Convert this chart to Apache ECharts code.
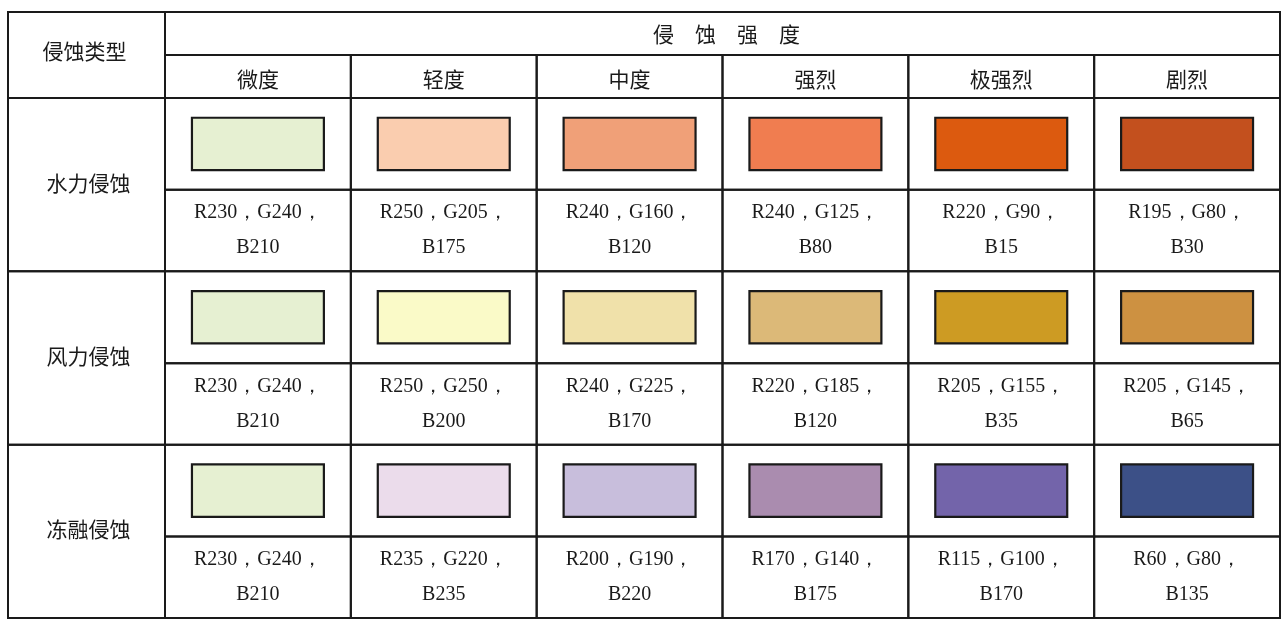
<!DOCTYPE html>
<html><head><meta charset="utf-8">
<script src="https://cdn.jsdelivr.net/npm/echarts@6/dist/echarts.min.js"></script>
<style>html,body{margin:0;padding:0;background:#fff}#c{width:1285px;height:637px}</style>
</head><body><div id="c"></div>
<script>
// ---- data ----
const typeHeader = '侵蚀类型';
const intensityHeader = '侵 蚀 强 度';
const intensityLevels = ['微度', '轻度', '中度', '强烈', '极强烈', '剧烈'];
const erosionTypes = ['水力侵蚀', '风力侵蚀', '冻融侵蚀'];
const waterRGB  = [[230,240,210],[250,205,175],[240,160,120],[240,125,80],[220,90,15],[195,80,30]];
const windRGB   = [[230,240,210],[250,250,200],[240,225,170],[220,185,120],[205,155,35],[205,145,65]];
const freezeRGB = [[230,240,210],[235,220,235],[200,190,220],[170,140,175],[115,100,170],[60,80,135]];
const rgbByType = [waterRGB, windRGB, freezeRGB];

// ---- build ----
const cellData = [];
rgbByType.forEach((arr, t) => arr.forEach((c, i) => { cellData.push({ value: [i, t], rgb: c }); }));
const SPLIT = 0.53; // share of each type band taken by the swatch row
const CN = '"Noto Sans CJK SC", "Noto Sans", sans-serif';
const SERIF = '"Liberation Serif", "DejaVu Serif", serif';
const LINE = '#1a1a1a';
function cellRect(api, x, y) {
  const p = api.coord([x, y]); const s = api.size([1, 1]);
  return { x: p[0] - s[0] / 2, y: p[1] - s[1] / 2, width: s[0], height: s[1], cx: p[0], cy: p[1], w: s[0], h: s[1] };
}
function border(r) {
  return { type: 'rect', shape: { x: r.x, y: r.y, width: r.width, height: r.height }, style: { fill: 'none', stroke: LINE, lineWidth: 2 } };
}
function label(txt, x, y, font, extra) {
  return { type: 'text', style: Object.assign({ text: txt, x: x, y: y, align: 'center', verticalAlign: 'middle', font: font, fill: '#1a1a1a' }, extra || {}) };
}

const chart = echarts.init(document.getElementById('c'), null, { renderer: 'canvas' });
chart.setOption({
  backgroundColor: '#fff',
  animation: false,
  grid: [
    { left: 165, right: 5, top: 12, height: 86 },
    { left: 8, width: 157, top: 12, height: 86 },
    { left: 8, width: 157, top: 98, bottom: 19 },
    { left: 165, right: 5, top: 98, bottom: 19 }
  ],
  xAxis: [
    { gridIndex: 0, type: 'category', data: intensityLevels, show: false },
    { gridIndex: 1, type: 'category', data: [typeHeader], show: false },
    { gridIndex: 2, type: 'category', data: [typeHeader], show: false },
    { gridIndex: 3, type: 'category', data: intensityLevels, show: false }
  ],
  yAxis: [
    { gridIndex: 0, type: 'category', data: [intensityHeader, '等级'], inverse: true, show: false },
    { gridIndex: 1, type: 'category', data: [typeHeader], inverse: true, show: false },
    { gridIndex: 2, type: 'category', data: erosionTypes, inverse: true, show: false },
    { gridIndex: 3, type: 'value', min: 0, max: erosionTypes.length, inverse: true, show: false }
  ],
  series: [
    { // spanning header 侵蚀强度
      type: 'custom', xAxisIndex: 0, yAxisIndex: 0, data: [[0, 0]],
      renderItem: function (params, api) {
        const a = cellRect(api, 0, 0), b = cellRect(api, intensityLevels.length - 1, 0);
        const r = { x: a.x, y: a.y, width: b.x + b.width - a.x, height: a.height };
        const txt = intensityHeader.split(' ').join('\u3000');
        return { type: 'group', children: [border(r), label(txt, r.x + r.width / 2 + 4, a.cy + 1, '21px ' + CN)] };
      }
    },
    { // level headers
      type: 'custom', xAxisIndex: 0, yAxisIndex: 0,
      data: intensityLevels.map((l, i) => [i, 1]),
      renderItem: function (params, api) {
        const r = cellRect(api, api.value(0), api.value(1));
        return { type: 'group', children: [border(r), label(intensityLevels[params.dataIndex], r.cx, r.cy + 3, '21px ' + CN)] };
      }
    },
    { // type header
      type: 'custom', xAxisIndex: 1, yAxisIndex: 1, data: [[0, 0]],
      renderItem: function (params, api) {
        const r = cellRect(api, 0, 0);
        return { type: 'group', children: [border(r), label(typeHeader, r.cx - 2, r.cy - 4, '21px ' + CN)] };
      }
    },
    { // erosion types
      type: 'custom', xAxisIndex: 2, yAxisIndex: 2,
      data: erosionTypes.map((t, i) => [0, i]),
      renderItem: function (params, api) {
        const r = cellRect(api, api.value(0), api.value(1));
        return { type: 'group', children: [border(r), label(erosionTypes[params.dataIndex], r.cx + 2, r.cy - 2, '21px ' + CN)] };
      }
    },
    { // swatch + rgb value cells
      type: 'custom', xAxisIndex: 3, yAxisIndex: 3, data: cellData,
      renderItem: function (params, api) {
        const i = api.value(0), t = api.value(1);
        const c = cellData[params.dataIndex].rgb;
        const p0 = api.coord([i, t]), pm = api.coord([i, t + SPLIT]), p1 = api.coord([i, t + 1]);
        const w = api.size([1, 0])[0];
        const x0 = p0[0] - w / 2;
        const top = { x: x0, y: p0[1], width: w, height: pm[1] - p0[1] };
        const bot = { x: x0, y: pm[1], width: w, height: p1[1] - pm[1] };
        const sw = w * 0.71, sh = top.height * 0.57;
        const txt = 'R' + c[0] + '，G' + c[1] + '，\nB' + c[2];
        return { type: 'group', children: [
          border(top), border(bot),
          { type: 'rect', shape: { x: p0[0] - sw / 2, y: top.y + top.height / 2 - sh / 2, width: sw, height: sh },
            style: { fill: 'rgb(' + c.join(',') + ')', stroke: LINE, lineWidth: 2.2 } },
          label(txt, p0[0], bot.y + bot.height / 2, '20px ' + SERIF, { lineHeight: 35 })
        ] };
      }
    }
  ]
});
</script></body></html>
